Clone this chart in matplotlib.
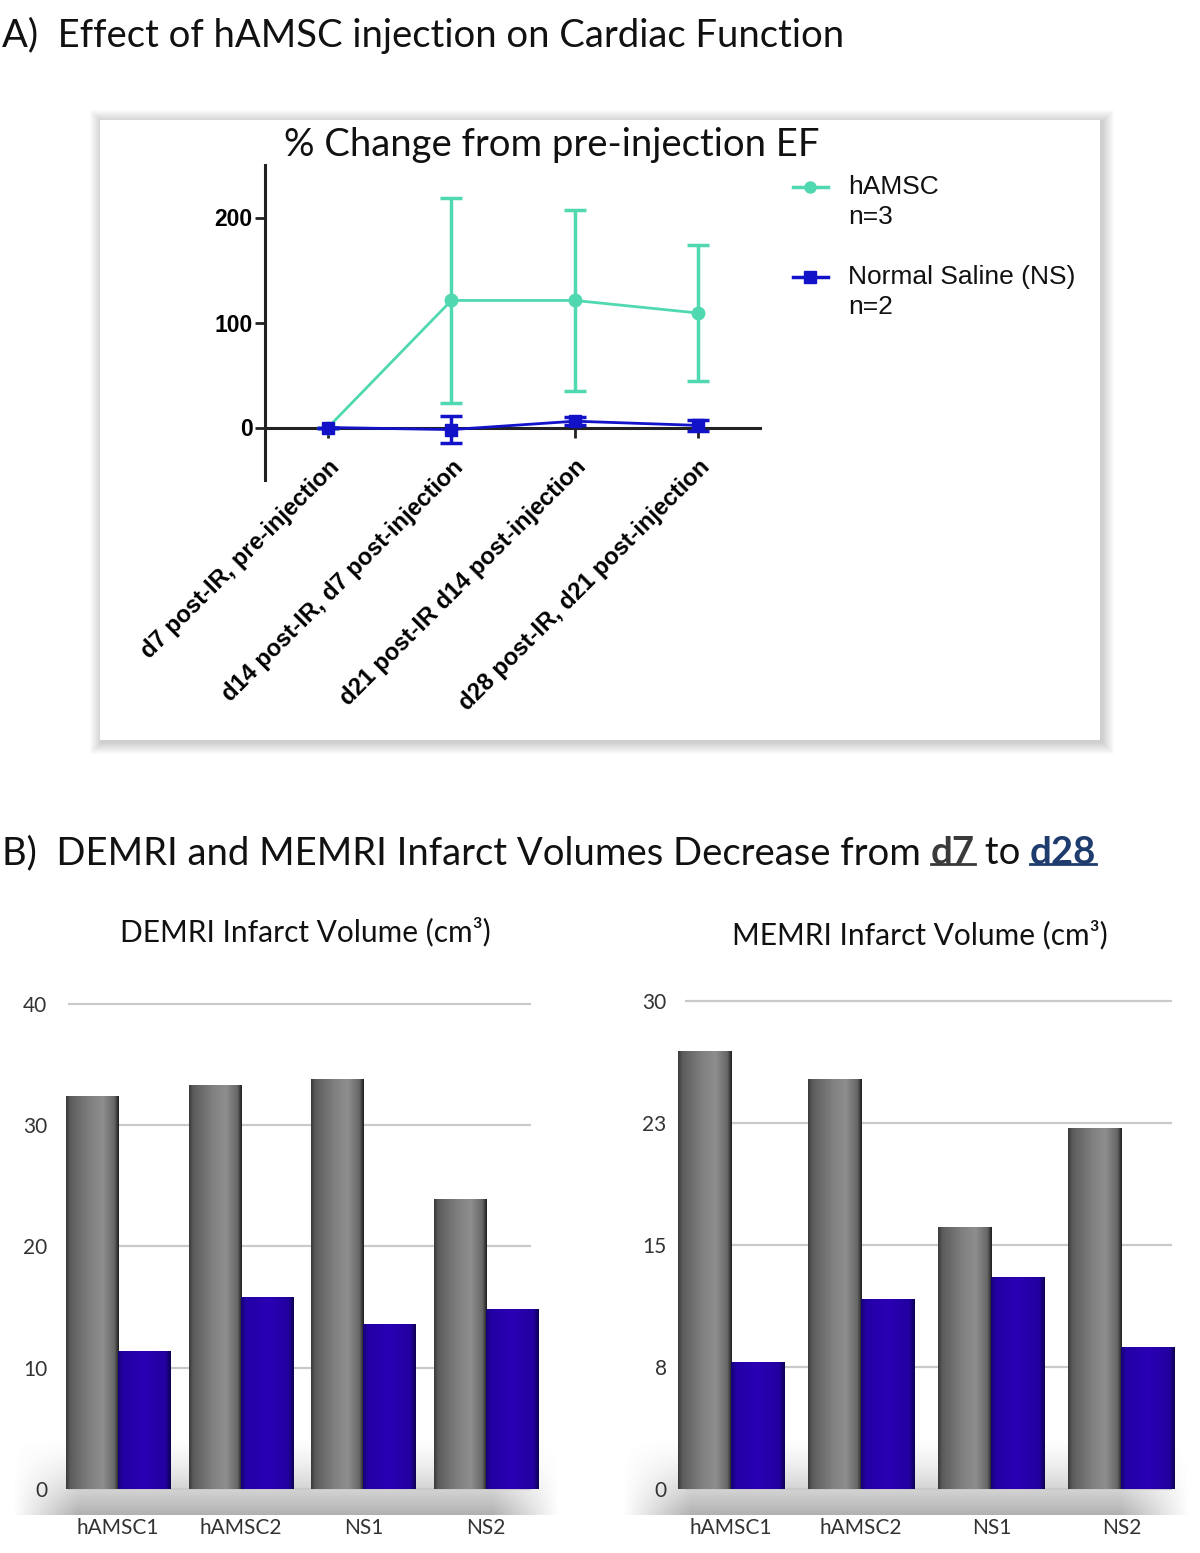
import numpy as np
import matplotlib
matplotlib.use("Agg")
import matplotlib.pyplot as plt
from matplotlib.patches import Rectangle
from matplotlib.lines import Line2D
from matplotlib.colors import LinearSegmentedColormap

# ---------------- data ----------------
timepoints = ["d7 post-IR, pre-injection", "d14 post-IR, d7 post-injection",
              "d21 post-IR d14 post-injection", "d28 post-IR, d21 post-injection"]
hamsc_mean = [0, 121, 121, 109]
hamsc_err = [0, 98, 86, 65]
ns_mean = [0, -2, 6, 2]
ns_err = [0, 13, 4, 5]
legend_labels = ["hAMSC", "Normal Saline (NS)"]
legend_n = ["n=3", "n=2"]
ef_yticks = [0, 100, 200]

subjects = ["hAMSC1", "hAMSC2", "NS1", "NS2"]
demri_d7 = [32.4, 33.3, 33.8, 23.9]
demri_d28 = [11.4, 15.8, 13.6, 14.8]
memri_d7 = [26.9, 25.2, 16.1, 22.2]
memri_d28 = [7.8, 11.7, 13.0, 8.7]
demri_ticks = [0, 10, 20, 30, 40]
demri_ticklabels = ["0", "10", "20", "30", "40"]
memri_ticks = [0, 7.5, 15, 22.5, 30]
memri_ticklabels = ["0", "8", "15", "23", "30"]

# ---------------- style ----------------
W, H = 1200, 1553
GREEN = "#50D8B0"
BLUE = "#1212C8"
HEAD_FONT = "Lato"
ARIAL = "Liberation Sans"
HEAD_SIZE = 27.5


def fb(x0, y0, x1, y1):
    return [x0 / W, 1 - y1 / H, (x1 - x0) / W, (y1 - y0) / H]


fig = plt.figure(figsize=(W / 100, H / 100), dpi=100)
fig.patch.set_facecolor("white")

# ---------- panel A box with soft shadow ----------
bx0, by0, bx1, by1 = 100, 120, 1100, 740
for i in range(12, 0, -1):
    fig.add_artist(Rectangle(((bx0 - i + 2) / W, 1 - (by1 + i + 2) / H),
                             (bx1 - bx0 + 2 * i) / W, (by1 - by0 + 2 * i) / H,
                             transform=fig.transFigure, facecolor="black",
                             alpha=0.016, edgecolor="none", zorder=-3))
fig.add_artist(Rectangle((bx0 / W, 1 - by1 / H), (bx1 - bx0) / W, (by1 - by0) / H,
                         transform=fig.transFigure, facecolor="white",
                         edgecolor="none", zorder=-2))

# headers
fig.text(2 / W, 1 - 35 / H, "A)  Effect of hAMSC injection on Cardiac Function",
         fontsize=HEAD_SIZE, family=HEAD_FONT, va="center", ha="left", color="#111111")
fig.text(552 / W, 1 - 145 / H, "% Change from pre-injection EF",
         fontsize=HEAD_SIZE, family=HEAD_FONT, va="center", ha="center", color="#111111")

# ---------- panel A line chart ----------
axA = fig.add_axes(fb(265, 165, 760, 480))
axA.set_facecolor("none")
x = np.arange(len(timepoints))
axA.errorbar(x, hamsc_mean, yerr=hamsc_err, color=GREEN, marker="o", ms=9,
             lw=2, elinewidth=2.5, capsize=8, capthick=2.5, zorder=3)
axA.errorbar(x, ns_mean, yerr=ns_err, color=BLUE, marker="s", ms=9,
             lw=2, elinewidth=2.5, capsize=8, capthick=2.5, zorder=4)
axA.set_xlim(-0.51, 3.5)
axA.set_ylim(-50, 250)
for s in ["top", "right"]:
    axA.spines[s].set_visible(False)
axA.spines["bottom"].set_position(("data", 0))
for s in ["bottom", "left"]:
    axA.spines[s].set_linewidth(2.2)
    axA.spines[s].set_color("#222222")
axA.set_yticks(ef_yticks)
axA.set_yticklabels([str(v) for v in ef_yticks], fontsize=16.5, fontweight="bold",
                    family=ARIAL)
axA.set_xticks(x)
axA.set_xticklabels(timepoints, rotation=45, ha="right", rotation_mode="anchor",
                    fontsize=17, fontweight="bold", family=ARIAL)
axA.tick_params(axis="both", length=7, width=2, color="#222222")
axA.tick_params(axis="x", pad=13)
axA.tick_params(axis="y", pad=2)

# manual legend
leg_colors = [GREEN, BLUE]
leg_markers = ["o", "s"]
leg_y = [187, 277]
for lab, n, c, m, yy in zip(legend_labels, legend_n, leg_colors, leg_markers, leg_y):
    fig.add_artist(Line2D([793 / W, 828 / W], [1 - yy / H, 1 - yy / H],
                          transform=fig.transFigure, color=c, lw=2.5))
    fig.add_artist(Line2D([810 / W], [1 - yy / H], transform=fig.transFigure,
                          color=c, marker=m, ms=8, lw=0))
    fig.text(848 / W, 1 - yy / H, lab, fontsize=19, family=ARIAL,
             va="center", ha="left", color="#111111")
    fig.text(848 / W, 1 - (yy + 30) / H, n, fontsize=19, family=ARIAL,
             va="center", ha="left", color="#111111")

# ---------- panel B header with underlined words ----------
hy = 1 - 853 / H
t1 = fig.text(2 / W, hy, "B)  DEMRI and MEMRI Infarct Volumes Decrease from ",
              fontsize=HEAD_SIZE, family=HEAD_FONT, va="center", ha="left",
              color="#111111")
t2 = fig.text(0, 0, "d7", fontsize=HEAD_SIZE, family=HEAD_FONT, fontweight="bold",
              color="#3a3a3a", va="center", ha="left")
t3 = fig.text(0, 0, " to ", fontsize=HEAD_SIZE, family=HEAD_FONT, color="#111111",
              va="center", ha="left")
t4 = fig.text(0, 0, "d28", fontsize=HEAD_SIZE, family=HEAD_FONT, fontweight="bold",
              color="#1F3C6E", va="center", ha="left")
fig.canvas.draw()
r = fig.canvas.get_renderer()
prev = t1
for t in [t2, t3, t4]:
    bb = prev.get_window_extent(r)
    t.set_position((bb.x1 / W, hy))
    fig.canvas.draw()
    prev = t
for t in [t2, t4]:
    bb = t.get_window_extent(r)
    uy = bb.y0 + 0.17 * bb.height
    fig.add_artist(Line2D([bb.x0 / W, bb.x1 / W], [uy / H, uy / H],
                          transform=fig.transFigure, color=t.get_color(), lw=2))

fig.text(305 / W, 1 - 932 / H, "DEMRI Infarct Volume (cm³)", fontsize=21.5,
         family=HEAD_FONT, ha="center", va="center", color="#111111")
fig.text(920 / W, 1 - 935 / H, "MEMRI Infarct Volume (cm³)", fontsize=21.5,
         family=HEAD_FONT, ha="center", va="center", color="#111111")

# ---------- bar charts ----------
gray_cmap = LinearSegmentedColormap.from_list(
    "g", [(0, "#3a3a3a"), (0.08, "#5c5c5c"), (0.45, "#808080"),
          (0.7, "#8e8e8e"), (0.92, "#666666"), (1, "#1e1e1e")])
blue_cmap = LinearSegmentedColormap.from_list(
    "b", [(0, "#170078"), (0.1, "#2400a6"), (0.5, "#2a00b4"),
          (0.9, "#2200a0"), (1, "#0e0050")])


def floor_shadow(px0, px1):
    axs = fig.add_axes(fb(px0, 1435, px1, 1515))
    axs.set_axis_off()
    ny, nx = 40, 200
    yy = np.linspace(0, 1, ny)[:, None]
    xx = np.linspace(0, 1, nx)[None, :]
    edge = np.clip(np.minimum(xx, 1 - xx) / 0.12, 0, 1)
    alpha = (yy ** 1.5) * edge * 0.55
    img = np.zeros((ny, nx, 4))
    img[..., :3] = 0.45
    img[..., 3] = alpha
    axs.imshow(img, aspect="auto", extent=[0, 1, 0, 1], origin="upper")
    axs.set_zorder(-1)


def shade(ax, patch, cmap):
    x0, y0 = patch.get_x(), patch.get_y()
    w, h = patch.get_width(), patch.get_height()
    grad = np.linspace(0, 1, 128).reshape(1, -1)
    im = ax.imshow(grad, extent=[x0, x0 + w, y0, y0 + h], aspect="auto",
                   cmap=cmap, origin="lower", interpolation="bilinear",
                   zorder=patch.get_zorder() + 0.1)
    im.set_clip_path(patch)


def bar_chart(rect, d7, d28, ticks, ticklabels, xlim, ylim, width, grid_x):
    ax = fig.add_axes(rect)
    ax.set_facecolor("none")
    xs = np.arange(len(subjects))
    for t in ticks:
        ax.plot(grid_x, [t, t], color="#c9c9c9", lw=1.6, zorder=0.5,
                solid_capstyle="butt")
    b1 = ax.bar(xs - width / 2, d7, width, color="#777777", zorder=2)
    b2 = ax.bar(xs + width / 2, d28, width, color="#2400a6", zorder=2)
    for p in b1:
        shade(ax, p, gray_cmap)
    for p in b2:
        shade(ax, p, blue_cmap)
    ax.set_xlim(*xlim)
    ax.set_ylim(*ylim)
    for s in ax.spines.values():
        s.set_visible(False)
    ax.set_yticks(ticks)
    ax.set_yticklabels(ticklabels, fontsize=15, family=HEAD_FONT, color="#333333")
    ax.set_xticks(xs)
    ax.set_xticklabels(subjects, fontsize=15, family=HEAD_FONT, color="#333333")
    ax.tick_params(length=0)
    ax.tick_params(axis="x", pad=6)
    return ax


floor_shadow(12, 560)
floor_shadow(622, 1190)
axL = bar_chart(fb(60, 1000, 540, 1510), demri_d7, demri_d28, demri_ticks,
                demri_ticklabels, (-0.473, 3.44), (-1.73, 40.3), 0.425,
                [-0.41, 3.37])
axL.tick_params(axis="y", pad=9)
axR = bar_chart(fb(675, 996, 1180, 1510), memri_d7, memri_d28, memri_ticks,
                memri_ticklabels, (-0.431, 3.45), (-1.29, 30.3), 0.41,
                [-0.354, 3.385])
axR.tick_params(axis="y", pad=6)

fig.savefig("out.png", dpi=100, facecolor="white")
